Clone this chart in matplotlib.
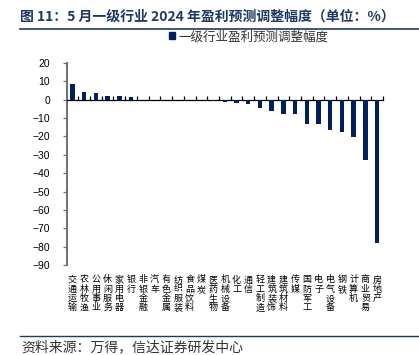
import numpy as np
import matplotlib
matplotlib.use("Agg")
import matplotlib.pyplot as plt
from matplotlib.lines import Line2D
from matplotlib.patches import Patch

plt.rcParams['font.family'] = ['Noto Sans CJK SC', 'DejaVu Sans']
plt.rcParams['axes.unicode_minus'] = True

# ---------------- data ----------------
industries = ["交通运输", "农林牧渔", "公用事业", "休闲服务", "家用电器", "银行",
              "非银金融", "汽车", "有色金属", "纺织服装", "食品饮料", "煤炭",
              "医药生物", "机械设备", "化工", "通信", "轻工制造", "建筑装饰",
              "建筑材料", "传媒", "国防军工", "电子", "电气设备", "钢铁",
              "计算机", "商业贸易", "房地产"]
adjust = [8.3, 4.3, 3.8, 2.3, 2.1, 1.7,
          0.1, 0.05, 0.05, -0.1, -0.3, -0.4,
          -0.5, -1.0, -1.6, -2.5, -4.3, -6.1,
          -7.9, -7.9, -13.0, -13.4, -16.5, -17.6,
          -20.4, -33.0, -77.8]

title = "图 11：5 月一级行业 2024 年盈利预测调整幅度（单位：%）"
legend_label = "一级行业盈利预测调整幅度"
source = "资料来源：万得，信达证券研发中心"

NAVY = "#002060"
TITLE_BLUE = "#1F3864"

# ---------------- figure ----------------
fig = plt.figure(figsize=(4.19, 3.55), dpi=100)
ax = fig.add_axes([0.159, 0.2535, 0.755, 0.569])

x = np.arange(len(industries))
ax.bar(x, adjust, width=0.38, color=NAVY, label=legend_label, zorder=3)

ax.set_xlim(-0.5, len(industries) - 0.5)
ax.set_ylim(-90, 20)
ax.set_yticks(np.arange(-90, 21, 10))

for s in ["top", "right"]:
    ax.spines[s].set_visible(False)
ax.spines["left"].set_color("#707070")
ax.spines["left"].set_linewidth(1.4)
ax.spines["bottom"].set_position(("data", 0))
ax.spines["bottom"].set_color("black")
ax.spines["bottom"].set_linewidth(0.9)

ax.set_xticks(np.arange(len(industries)) + 0.5)
ax.set_xticklabels([])
ax.tick_params(axis="x", direction="in", length=3, width=0.9, color="black")
ax.tick_params(axis="y", direction="out", length=3, width=0.9, color="#707070",
               pad=9, labelsize=7.5, labelcolor="black")
for lab in ax.get_yticklabels():
    lab.set_family(["Liberation Sans", "DejaVu Sans"])

# vertical category labels at the bottom, one character per row
row_y = [-0.074, -0.120, -0.166, -0.212]
for i, name in enumerate(industries):
    for j, ch in enumerate(name):
        ax.text(i, row_y[j], ch, transform=ax.get_xaxis_transform(),
                ha="center", va="center", fontsize=6.5, color="black")

# legend
ax.legend(handles=[Patch(color=NAVY, label=legend_label)], loc="center",
          bbox_to_anchor=(0.575, 1.13), frameon=False, fontsize=9,
          handlelength=0.5, handleheight=0.5, handletextpad=0.3,
          labelcolor="#333333")

# title and footer
fig.text(0.048, 0.952, title, fontsize=10, fontweight="bold", color=TITLE_BLUE,
         ha="left", va="center")
fig.add_artist(Line2D([0.048, 1.0], [0.918, 0.918], color=TITLE_BLUE, lw=1.2))
fig.add_artist(Line2D([0.048, 1.0], [0.054, 0.054], color=TITLE_BLUE, lw=1.0))
fig.text(0.052, 0.022, source, fontsize=10, color="#333333", style="italic",
         ha="left", va="center")

fig.savefig("out.png", dpi=100)
